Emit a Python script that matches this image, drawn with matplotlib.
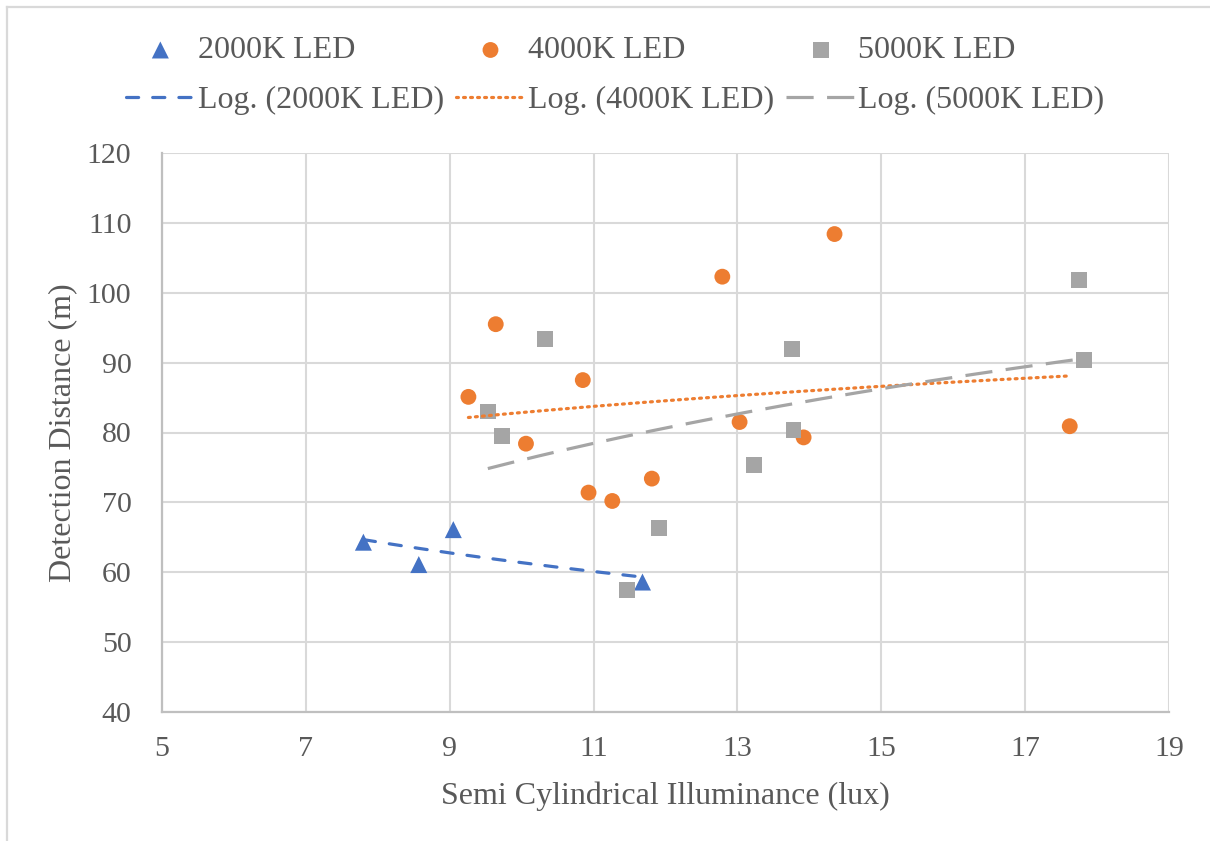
import numpy as np
import matplotlib.pyplot as plt
from matplotlib.lines import Line2D

# detection distance vs semi-cylindrical illuminance, three LED colour temperatures
x_2000 = [7.80, 8.57, 9.05, 11.68]
y_2000 = [64.3, 61.1, 66.1, 58.6]

x_4000 = [9.26, 9.64, 10.06, 10.85, 10.93, 11.26, 11.81, 12.79, 13.03, 13.92, 14.35, 17.62]
y_4000 = [85.1, 95.5, 78.4, 87.5, 71.4, 70.2, 73.4, 102.3, 81.5, 79.3, 108.4, 80.9]

x_5000 = [9.53, 9.73, 10.32, 11.47, 11.91, 13.23, 13.76, 13.78, 17.75, 17.82]
y_5000 = [83.0, 79.5, 93.4, 57.4, 66.3, 75.3, 91.9, 80.4, 101.8, 90.4]

labels = ["2000K LED", "4000K LED", "5000K LED"]
colors = ["#4472C4", "#ED7D31", "#A5A5A5"]
markers = ["^", "o", "s"]

x_ticks = [5, 7, 9, 11, 13, 15, 17, 19]
y_ticks = [40, 50, 60, 70, 80, 90, 100, 110, 120]

txt = "#595959"
plt.rcParams["font.family"] = ["Liberation Serif", "DejaVu Serif"]

fig = plt.figure(figsize=(12.1, 8.41), dpi=100)
ax = fig.add_axes([162 / 1210, 129 / 841, 1007 / 1210, 559 / 841])

lw = 2.3
styles = [
    dict(dashes=(3.8, 4.4), dash_capstyle="round"),
    dict(dashes=(0.6, 1.6), dash_capstyle="round"),
    dict(dashes=(8.5, 4.2), dash_capstyle="butt"),
]

handles = []
series = [(x_2000, y_2000), (x_4000, y_4000), (x_5000, y_5000)]
for (xs, ys), lab, c, m, st in zip(series, labels, colors, markers, styles):
    xs = np.array(xs)
    ys = np.array(ys)
    sc = ax.scatter(xs, ys, s=130 if m != "^" else 150, marker=m, color=c,
                    edgecolors="none", zorder=3, label=lab)
    # logarithmic trendline y = a*ln(x) + b over the data range
    a, b = np.polyfit(np.log(xs), ys, 1)
    xx = np.linspace(xs.min(), xs.max(), 200)
    ln, = ax.plot(xx, a * np.log(xx) + b, color=c, lw=lw, zorder=4,
                  label="Log. (" + lab + ")", **st)
    handles.append((sc, ln))

ax.set_xlim(5, 19)
ax.set_ylim(40, 120)
ax.set_xticks(x_ticks)
ax.set_yticks(y_ticks)
ax.set_axisbelow(True)
ax.grid(True, color="#d9d9d9", lw=1.5)
ax.tick_params(length=0, labelsize=21.5, labelcolor=txt)
ax.tick_params(axis="x", pad=17)
ax.tick_params(axis="y", pad=22)
for s in ["top", "right"]:
    ax.spines[s].set_visible(False)
for s in ["left", "bottom"]:
    ax.spines[s].set_color("#bfbfbf")
    ax.spines[s].set_linewidth(1.6)

ax.set_xlabel("Semi Cylindrical Illuminance (lux)", fontsize=23, color=txt, labelpad=14)
ax.set_ylabel("Detection Distance (m)", fontsize=23, color=txt, labelpad=7)

# legend: markers on the first row, trendlines on the second
order = []
for sc, ln in handles:
    order += [sc, ln]
leg = fig.legend(handles=order, labels=[h.get_label() for h in order],
                 ncol=3, loc="upper left", bbox_to_anchor=(126 / 1210, 1 - 36 / 841),
                 frameon=False, fontsize=23, labelcolor=txt,
                 handlelength=2.15, handletextpad=0.1, columnspacing=0.38,
                 labelspacing=0.65, borderaxespad=0, borderpad=0)

# chart area border
fig.add_artist(Line2D([7 / 1210, 7 / 1210], [0, 1 - 7 / 841], transform=fig.transFigure,
                      color="#d9d9d9", lw=1.6))
fig.add_artist(Line2D([7 / 1210, 1], [1 - 7 / 841, 1 - 7 / 841], transform=fig.transFigure,
                      color="#d9d9d9", lw=1.6))

fig.savefig("out.png", dpi=100, facecolor="white")
